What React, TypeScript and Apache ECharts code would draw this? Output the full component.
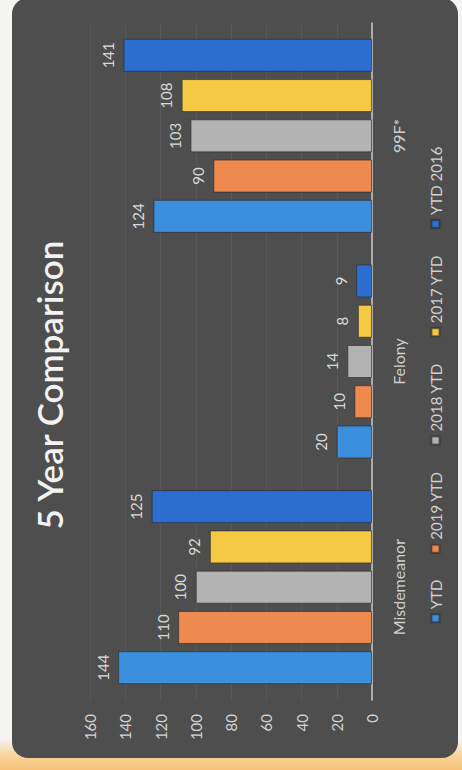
import React, { useEffect, useRef } from "react";
import * as echarts from "echarts";

const categories = ["Misdemeanor", "Felony", "99F*"];
const seriesNames = ["YTD", "2019 YTD", "2018 YTD", "2017 YTD", "YTD 2016"];
const ytd = [144, 20, 124];
const ytd2019 = [110, 10, 90];
const ytd2018 = [100, 14, 103];
const ytd2017 = [92, 8, 108];
const ytd2016 = [125, 9, 141];
const seriesColors = ["#3b8fdc", "#ef8a4f", "#b3b3b3", "#f5c944", "#2c6ed0"];
const valueTicks = { min: 0, max: 160, interval: 20 };

const FONT = "Lato, 'Open Sans', sans-serif";

export default function App() {
  const ref = useRef<HTMLDivElement>(null);
  useEffect(() => {
    if (!ref.current) return;
    const chart = echarts.init(ref.current, undefined, { renderer: "svg" });
    const values = [ytd, ytd2019, ytd2018, ytd2017, ytd2016];
    chart.setOption({
      animation: false,
      backgroundColor: "transparent",
      title: {
        text: "5 Year Comparison",
        left: "center",
        top: 26,
        textStyle: { color: "#f2f2f2", fontSize: 35, fontWeight: 600, fontFamily: FONT },
      },
      legend: {
        data: seriesNames,
        bottom: 14,
        left: "center",
        itemWidth: 8,
        itemHeight: 8,
        itemGap: 26,
        icon: "rect",
        textStyle: { color: "#d0d0d0", fontSize: 15, fontFamily: FONT },
      },
      grid: { left: 70, right: 23, top: 90, bottom: 90 },
      xAxis: {
        type: "category",
        data: categories,
        axisLine: { lineStyle: { color: "#c8c8c8", width: 1.5 } },
        axisTick: { show: false },
        axisLabel: { color: "#d0d0d0", fontSize: 16, margin: 18, fontFamily: FONT },
      },
      yAxis: {
        type: "value",
        min: valueTicks.min,
        max: valueTicks.max,
        interval: valueTicks.interval,
        axisLine: { show: false },
        axisTick: { show: false },
        axisLabel: { color: "#d4d4d4", fontSize: 15, margin: 14, fontFamily: FONT },
        splitLine: { lineStyle: { color: "rgba(255,255,255,0.06)" } },
      },
      series: seriesNames.map((name, i) => ({
        name,
        type: "bar",
        data: values[i],
        barWidth: 33,
        barGap: "22%",
        itemStyle: {
          color: seriesColors[i],
          borderColor: "rgba(40,40,40,0.6)",
          borderWidth: 1,
        },
        label: {
          show: true,
          position: "top",
          distance: 8,
          color: "#dadada",
          fontSize: 15,
          fontFamily: FONT,
        },
      })),
    });
    return () => chart.dispose();
  }, []);

  return (
    <div
      style={{
        position: "fixed",
        left: 0,
        top: 0,
        width: 462,
        height: 770,
        overflow: "hidden",
        background: "linear-gradient(to bottom, #f4f4f2 0%, #f4f4f2 96%, #f8d59c 98%, #f6c27a 100%)",
      }}
    >
      <div
        style={{
          position: "absolute",
          left: 12,
          top: -2,
          width: 446,
          height: 760,
          borderRadius: 16,
          background: "#4e4e4e",
        }}
      />
      <div
        ref={ref}
        style={{
          position: "absolute",
          left: 0,
          top: 0,
          width: 770,
          height: 462,
          transformOrigin: "top left",
          transform: "translate(0px, 770px) rotate(-90deg)",
        }}
      />
    </div>
  );
}
